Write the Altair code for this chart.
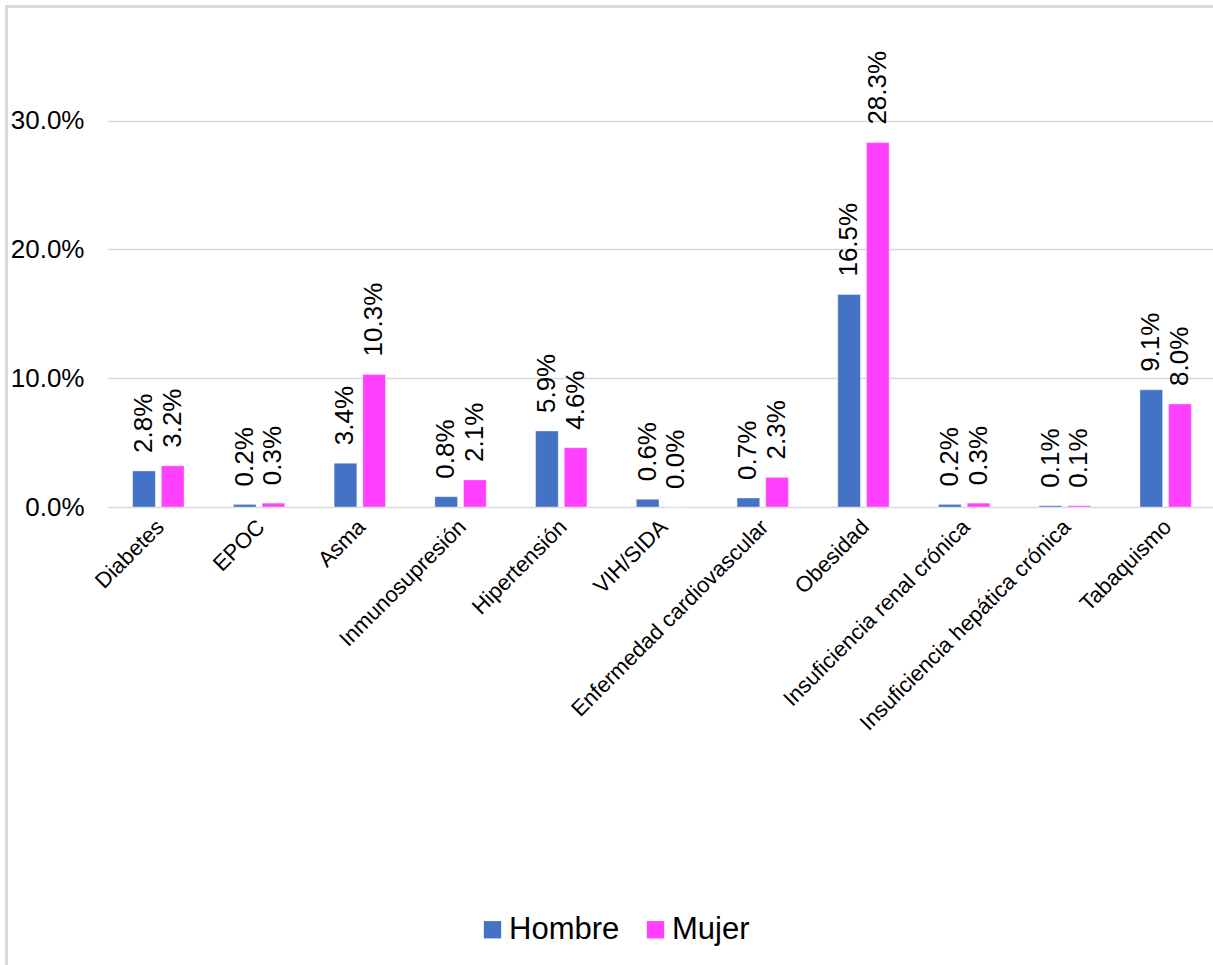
import altair as alt
import pandas as pd

# Comorbidity prevalence by sex
categories = [
    "Diabetes", "EPOC", "Asma", "Inmunosupresión", "Hipertensión", "VIH/SIDA",
    "Enfermedad cardiovascular", "Obesidad", "Insuficiencia renal crónica",
    "Insuficiencia hepática crónica", "Tabaquismo",
]
hombre = [2.8, 0.2, 3.4, 0.8, 5.9, 0.6, 0.7, 16.5, 0.2, 0.1, 9.1]
mujer = [3.2, 0.3, 10.3, 2.1, 4.6, 0.0, 2.3, 28.3, 0.3, 0.1, 8.0]
series = ["Hombre", "Mujer"]
colors = ["#4472C4", "#FF40FF"]
y_ticks = [0.0, 0.1, 0.2, 0.3]

rows = []
for cat, h, m in zip(categories, hombre, mujer):
    rows.append({"cat": cat, "sexo": "Hombre", "v": h / 100})
    rows.append({"cat": cat, "sexo": "Mujer", "v": m / 100})
df = pd.DataFrame(rows)

FONT = "Liberation Sans"

x_enc = alt.X(
    "cat:N",
    sort=categories,
    title=None,
    scale=alt.Scale(paddingInner=0.49, paddingOuter=0.245, range=[0, 1108]),
    axis=alt.Axis(
        labelAngle=-45,
        labelAlign="right",
        labelBaseline="middle",
        labelFontSize=22,
        labelFont=FONT,
        labelColor="#000000",
        labelPadding=16,
        labelOffset=2,
        labelLimit=400,
        ticks=False,
        domain=False,
        grid=False,
    ),
)
y_enc = alt.Y(
    "v:Q",
    title=None,
    scale=alt.Scale(domain=[0, 0.386], nice=False),
    axis=alt.Axis(
        values=y_ticks,
        format=".1%",
        labelFontSize=26,
        labelFont=FONT,
        labelColor="#000000",
        labelPadding=24,
        ticks=False,
        domain=False,
        grid=True,
        gridColor="#d9d9d9",
        gridWidth=1.5,
    ),
)
xoff = alt.XOffset("sexo:N", sort=series, scale=alt.Scale(paddingInner=0.21))
color_enc = alt.Color(
    "sexo:N",
    sort=series,
    scale=alt.Scale(domain=series, range=colors),
    legend=alt.Legend(
        title=None,
        orient="none",
        legendX=369,
        legendY=904,
        direction="horizontal",
        symbolType="square",
        symbolSize=300,
        symbolStrokeWidth=0,
        labelFontSize=31,
        labelFont=FONT,
        labelColor="#000000",
        labelOffset=1,
        columnPadding=20,
        labelLimit=300,
    ),
)

base = alt.Chart(df)

bars = base.mark_bar(stroke="#ffffff", strokeWidth=0.6, strokeOpacity=0.6).encode(
    x=x_enc, y=y_enc, xOffset=xoff, color=color_enc
)

labels = base.mark_text(
    angle=270,
    align="left",
    baseline="middle",
    dx=18,
    fontSize=26,
    font=FONT,
    color="#000000",
).encode(
    x=x_enc,
    y=y_enc,
    xOffset=xoff,
    text=alt.Text("v:Q", format=".1%"),
)

# Light frame around the chart (left and top edges)
frame_left = base.mark_rule(color="#d9d9d9", strokeWidth=2).encode(
    x=alt.value(-101.5), y=alt.value(-3.5), y2=alt.value(960)
)
frame_top = base.mark_rule(color="#d9d9d9", strokeWidth=2).encode(
    x=alt.value(-102.5), x2=alt.value(1110), y=alt.value(-3.5)
)

chart = (
    alt.layer(frame_left, frame_top, bars, labels)
    .properties(
        width=1105,
        height=497,
        background="#ffffff",
        autosize=alt.AutoSizeParams(type="none"),
        padding={"left": 108, "top": 10, "right": 0, "bottom": 458},
    )
    .configure_view(strokeWidth=0)
)

chart.save("out.html", embed_options={"renderer": "svg", "actions": False})
